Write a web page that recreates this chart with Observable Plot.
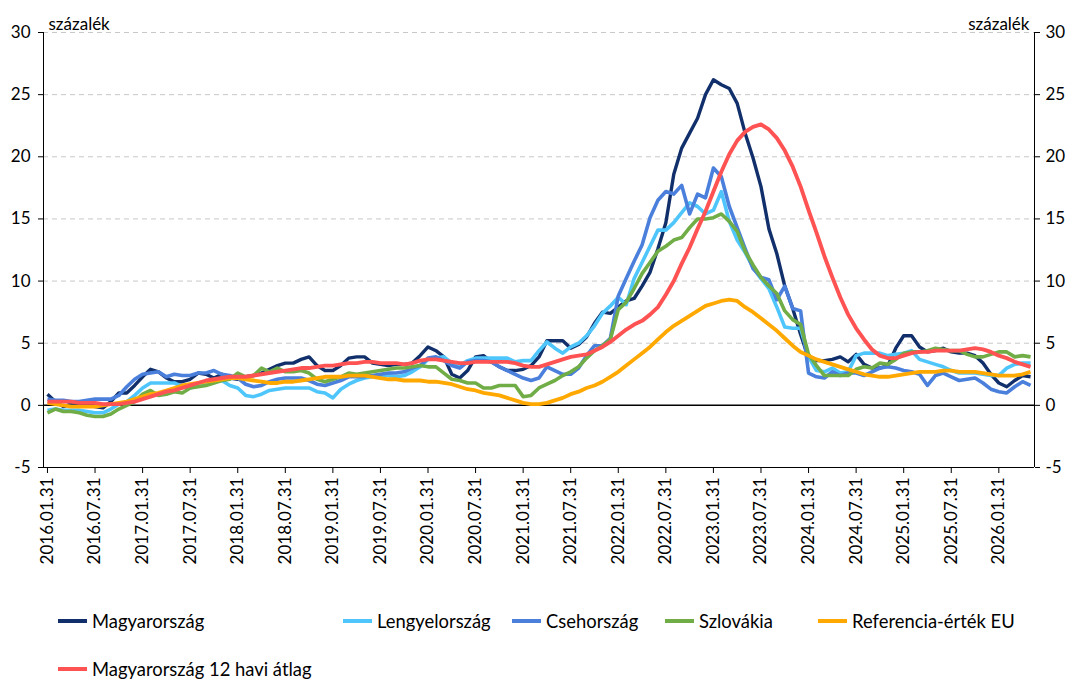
<!DOCTYPE html>
<html><head><meta charset="utf-8">
<script src="https://cdn.jsdelivr.net/npm/d3@7"></script>
<script src="https://cdn.jsdelivr.net/npm/@observablehq/plot@0.6"></script>
<style>
body{margin:0;background:#fff;font-family:Lato, sans-serif;}
#wrap{position:relative;width:1066px;height:679px;overflow:hidden;}
.leg{position:absolute;display:flex;align-items:center;font-size:18.4px;color:#000;white-space:nowrap;transform:translateY(-50%);}
.sw{width:29px;height:4px;margin-right:5px;}
</style></head><body><div id="wrap"></div>
<script>
// Monthly observations, 2016.01 ... 2026.05 (index 0 = 2016.01)
const tickLabels = ["2016.01.31","2016.07.31","2017.01.31","2017.07.31","2018.01.31","2018.07.31","2019.01.31","2019.07.31","2020.01.31","2020.07.31","2021.01.31","2021.07.31","2022.01.31","2022.07.31","2023.01.31","2023.07.31","2024.01.31","2024.07.31","2025.01.31","2025.07.31","2026.01.31"];
const yTicks = [-5, 0, 5, 10, 15, 20, 25, 30];

const hungary = [0.9,0.3,-0.1,0.1,0.0,0.2,-0.1,-0.2,0.3,1.0,1.0,1.6,
2.3,2.9,2.7,2.2,1.9,1.9,2.1,2.6,2.5,2.2,2.5,2.2,
2.1,2.3,2.4,2.6,2.9,3.2,3.4,3.4,3.7,3.9,3.2,2.8,
2.8,3.2,3.8,3.9,3.9,3.4,3.3,3.2,3.3,3.3,3.4,4.0,
4.7,4.4,3.9,2.5,2.2,2.8,3.9,4.0,3.5,3.1,2.8,2.8,
2.9,3.2,3.9,5.2,5.2,5.2,4.6,4.9,5.5,6.6,7.5,7.4,
7.9,8.4,8.6,9.6,10.7,12.6,14.7,18.6,20.7,21.9,23.1,25.0,
26.2,25.8,25.5,24.3,21.9,19.9,17.6,14.2,12.2,9.6,7.8,5.7,
3.8,3.6,3.6,3.7,3.9,3.5,4.1,3.3,3.0,3.0,3.2,4.6,
5.6,5.6,4.7,4.3,4.4,4.6,4.3,4.2,4.2,4.0,3.4,2.5,
1.8,1.5,2.0,2.4,2.3];
const poland = [-0.4,-0.3,-0.4,-0.4,-0.4,-0.5,-0.6,-0.6,-0.3,0.1,0.3,0.8,
1.4,1.8,1.8,1.8,1.8,1.5,1.4,1.6,1.8,1.9,2.0,1.6,
1.4,0.8,0.7,0.9,1.2,1.3,1.4,1.4,1.4,1.4,1.1,1.0,
0.6,1.3,1.7,2.0,2.2,2.3,2.4,2.4,2.3,2.4,2.7,3.1,
3.7,3.8,3.9,3.4,3.2,3.6,3.8,3.8,3.8,3.8,3.8,3.5,
3.6,3.6,4.4,5.1,4.6,4.2,4.7,5.0,5.6,6.4,7.4,8.0,
8.7,8.1,10.2,11.5,12.8,14.1,14.1,14.7,15.5,16.3,16.0,15.4,
15.7,17.2,14.8,13.3,12.3,11.1,10.2,9.4,7.9,6.3,6.2,6.2,
3.9,2.8,2.7,3.0,2.6,2.7,4.0,4.2,4.2,4.2,4.0,4.1,
4.2,4.4,3.7,3.5,3.3,3.1,2.8,2.6,2.6,2.6,2.5,2.4,
2.4,3.0,3.3,3.4,3.4];
const czechia = [0.5,0.4,0.4,0.3,0.3,0.4,0.5,0.5,0.5,0.8,1.5,2.1,
2.5,2.6,2.7,2.3,2.5,2.4,2.4,2.6,2.6,2.8,2.5,2.4,
2.2,1.7,1.5,1.6,1.9,2.1,2.2,2.2,2.2,2.0,1.7,1.6,
1.8,2.0,2.3,2.3,2.3,2.4,2.5,2.6,2.6,2.7,3.0,3.2,
3.8,3.9,3.6,3.2,3.0,3.5,3.6,3.6,3.5,3.1,2.8,2.5,
2.2,2.0,2.2,3.1,2.8,2.5,2.5,3.0,4.0,4.8,4.8,5.4,
8.8,10.2,11.6,12.9,15.1,16.5,17.2,17.0,17.7,15.4,17.0,16.7,
19.1,18.4,16.0,14.3,12.6,11.0,10.3,10.1,8.5,9.6,7.8,7.6,
2.6,2.3,2.2,2.7,2.4,2.6,2.6,2.4,2.7,3.0,3.1,3.0,
2.8,2.7,2.5,1.6,2.4,2.6,2.3,2.0,2.1,2.2,1.8,1.3,
1.1,1.0,1.5,1.9,1.6];
const slovakia = [-0.6,-0.3,-0.5,-0.5,-0.6,-0.8,-0.9,-0.9,-0.7,-0.3,0.0,0.3,
0.9,1.2,0.8,0.9,1.1,1.0,1.4,1.5,1.6,1.8,2.0,2.1,
2.6,2.3,2.4,3.0,2.7,3.0,2.7,2.7,2.8,2.6,2.1,1.9,
2.1,2.3,2.6,2.5,2.6,2.7,2.8,2.9,3.0,3.0,3.1,3.2,
3.1,3.1,2.6,2.1,2.0,1.8,1.8,1.4,1.4,1.6,1.6,1.6,
0.7,0.8,1.4,1.7,2.0,2.4,2.7,3.1,3.8,4.4,4.8,5.3,
7.7,8.3,9.4,10.6,11.5,12.4,12.8,13.3,13.5,14.3,15.0,15.0,
15.1,15.4,14.8,14.0,12.4,11.3,10.3,9.6,9.0,7.6,6.9,6.5,
4.1,3.2,2.4,2.4,2.4,2.4,2.9,3.1,3.0,3.4,3.3,3.7,
4.2,4.3,4.3,4.4,4.6,4.5,4.4,4.4,4.1,3.9,3.9,4.1,
4.3,4.3,3.9,4.0,3.9];
const referenceEU = [0.2,0.1,0.0,-0.1,-0.1,-0.1,-0.1,0.0,0.1,0.2,0.3,0.5,
0.7,0.9,1.0,1.2,1.4,1.6,1.7,1.8,1.9,2.0,2.1,2.2,
2.2,2.1,2.0,1.9,1.8,1.8,1.9,1.9,2.0,2.1,2.2,2.3,
2.3,2.3,2.4,2.4,2.4,2.3,2.2,2.1,2.1,2.0,2.0,2.0,
1.9,1.9,1.8,1.7,1.5,1.3,1.2,1.0,0.9,0.8,0.6,0.4,
0.2,0.1,0.1,0.2,0.4,0.6,0.9,1.1,1.4,1.6,1.9,2.3,
2.7,3.2,3.7,4.2,4.7,5.3,5.9,6.4,6.8,7.2,7.6,8.0,
8.2,8.4,8.5,8.4,7.9,7.5,7.0,6.5,6.0,5.4,4.8,4.3,
4.0,3.7,3.5,3.3,3.1,2.9,2.7,2.5,2.4,2.3,2.3,2.4,
2.5,2.6,2.7,2.7,2.7,2.8,2.8,2.7,2.7,2.7,2.6,2.5,
2.4,2.4,2.4,2.5,2.7];
const hungaryAvg12 = [0.3,0.3,0.3,0.3,0.2,0.2,0.2,0.1,0.1,0.1,0.2,0.3,
0.5,0.7,0.9,1.1,1.2,1.4,1.6,1.8,2.0,2.1,2.2,2.3,
2.3,2.3,2.4,2.5,2.6,2.7,2.8,2.9,3.0,3.0,3.1,3.2,
3.2,3.3,3.4,3.4,3.5,3.5,3.4,3.4,3.4,3.3,3.4,3.6,
3.7,3.7,3.6,3.5,3.4,3.4,3.5,3.5,3.5,3.5,3.5,3.4,
3.2,3.1,3.1,3.3,3.5,3.7,3.9,4.0,4.1,4.4,4.7,5.1,
5.6,6.1,6.5,6.8,7.3,7.9,8.9,10.0,11.4,12.7,14.2,15.6,
17.2,18.8,20.2,21.3,22.0,22.4,22.6,22.2,21.5,20.5,19.2,17.6,
15.7,13.9,12.0,10.3,8.7,7.3,6.2,5.3,4.5,4.0,3.8,3.8,
4.0,4.2,4.3,4.3,4.4,4.4,4.4,4.4,4.5,4.6,4.5,4.3,
4.0,3.8,3.5,3.3,3.1];

const seriesNames = ["Magyarország","Lengyelország","Csehország","Szlovákia","Referencia-érték EU","Magyarország 12 havi átlag"];
const seriesValues = [hungary, poland, czechia, slovakia, referenceEU, hungaryAvg12];
const seriesColors = ["#11306b","#4fc6fb","#4a7fdc","#70ad47","#ffa800","#ff5252"];
const seriesWidths = [3.4,3.6,3.6,3.6,3.8,3.9];

const nMonths = hungary.length;
const xDomain = [-0.5, nMonths - 0.5];
const tickIndex = tickLabels.map((_, k) => k * 6);

const lines = seriesValues.map((vals, s) =>
  Plot.line(vals.map((v, i) => ({i, v})), {
    x: "i", y: "v", stroke: seriesColors[s], strokeWidth: seriesWidths[s],
    strokeLinejoin: "round", strokeLinecap: "butt"
  })
);

const plot = Plot.plot({
  width: 1066, height: 590,
  marginTop: 32, marginBottom: 123, marginLeft: 43, marginRight: 32,
  style: {fontFamily: "Lato, sans-serif", fontSize: "17px", color: "#000", background: "#fff", overflow: "visible"},
  x: {domain: xDomain, axis: null},
  y: {domain: [yTicks[0], yTicks[yTicks.length - 1]], axis: null},
  marks: [
    Plot.gridY(yTicks.filter(d => d > 0), {stroke: "#c8c8c8", strokeOpacity: 1, strokeDasharray: "5,4", strokeWidth: 1}),
    Plot.ruleY([yTicks[0]], {stroke: "#000", strokeWidth: 1}),
    Plot.ruleX(xDomain, {stroke: "#000", strokeWidth: 1}),
    Plot.ruleY([0], {stroke: "#000", strokeWidth: 1.5}),
    Plot.axisY({anchor: "left", label: null, ticks: yTicks, tickSize: 5, tickPadding: 8, tickFormat: d => String(d), stroke: "#000"}),
    Plot.axisY({anchor: "right", label: null, ticks: yTicks, tickSize: 5, tickPadding: 6, tickFormat: d => String(d), stroke: "#000"}),
    Plot.axisX({anchor: "bottom", label: null, ticks: tickIndex, tickFormat: d => tickLabels[d / 6], tickRotate: -90, tickSize: 6, tickPadding: 4, stroke: "#000"}),
    ...lines,
    Plot.text(["százalék"], {frameAnchor: "top-left", dx: 5, dy: -15, textAnchor: "start", fontSize: 17}),
    Plot.text(["százalék"], {frameAnchor: "top-right", dx: -5, dy: -15, textAnchor: "end", fontSize: 17})
  ]
});

const wrap = document.getElementById("wrap");
plot.style.position = "absolute";
plot.style.left = "0px";
plot.style.top = "0px";
wrap.appendChild(plot);

// legend
const legendPos = [[58, 621], [343, 621], [512, 621], [665, 621], [818, 621], [58, 669]];
seriesNames.forEach((name, s) => {
  const d = document.createElement("div");
  d.className = "leg";
  d.style.left = legendPos[s][0] + "px";
  d.style.top = legendPos[s][1] + "px";
  const sw = document.createElement("span");
  sw.className = "sw";
  sw.style.background = seriesColors[s];
  const t = document.createElement("span");
  t.textContent = name;
  d.appendChild(sw); d.appendChild(t);
  wrap.appendChild(d);
});
</script></body></html>
